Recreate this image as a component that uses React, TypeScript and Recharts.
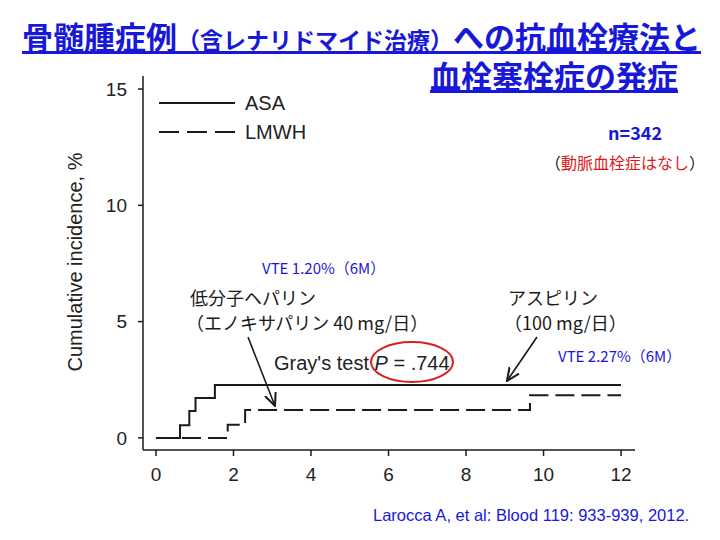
import { LineChart, Line, XAxis, YAxis, Legend } from 'recharts';

// months since start vs cumulative incidence (%)
const asaMonths = [0, 0.62, 0.86, 1.02, 1.52, 12];
const asaIncidence = [0, 0.54, 1.16, 1.72, 2.27, 2.27];
const lmwhMonths = [0, 1.85, 2.3, 9.65, 12];
const lmwhIncidence = [0, 0.57, 1.2, 1.83, 1.83];

const xTicks = [0, 2, 4, 6, 8, 10, 12];
const yTicks = [0, 5, 10, 15];
const seriesNames = ['ASA', 'LMWH'];

const asaData = asaMonths.map((m, i) => ({ month: m, value: asaIncidence[i] }));
const lmwhData = lmwhMonths.map((m, i) => ({ month: m, value: lmwhIncidence[i] }));

const BLUE = '#1818d8';
const INK = '#1a1a1a';
const DASH = '19 7';
const sans = '"Liberation Sans", Arial, sans-serif';
const axisFont = { fontSize: 19, fill: '#222', fontFamily: sans };
const jpFont = '"Noto Sans CJK JP", sans-serif';

const renderLegend = () => (
  <svg width={170} height={60} style={{ display: 'block', overflow: 'visible' }}>
    {seriesNames.map((name, i) => (
      <g key={name}>
        <line
          x1={0}
          x2={76}
          y1={12 + i * 29}
          y2={12 + i * 29}
          stroke={INK}
          strokeWidth={1.8}
          strokeDasharray={i === 1 ? '20 8' : undefined}
        />
        <text x={86} y={12 + i * 29} dominantBaseline='central' style={{ ...axisFont, fontSize: 20 }}>
          {name}
        </text>
      </g>
    ))}
  </svg>
);

const App = () => {
  return (
    <div style={{ position: 'absolute', left: 0, top: 0, width: 720, height: 540, background: '#fff', fontFamily: jpFont }}>
      <div style={{ position: 'absolute', left: 22, top: 19, fontSize: 31, lineHeight: '34px', fontWeight: 'bold', color: BLUE, textDecoration: 'underline', whiteSpace: 'nowrap' }}>
        骨髄腫症例<span style={{ fontSize: 23 }}>（含レナリドマイド治療）</span>への抗血栓療法と
      </div>
      <div style={{ position: 'absolute', right: 42, top: 58, fontSize: 31, lineHeight: '34px', fontWeight: 'bold', color: BLUE, textDecoration: 'underline', whiteSpace: 'nowrap' }}>
        血栓塞栓症の発症
      </div>

      <div style={{ position: 'absolute', left: 0, top: 0 }}>
        <LineChart width={720} height={540} margin={{ top: 76, right: 85, bottom: 60, left: 83 }}>
          <XAxis
            type='number'
            dataKey='month'
            domain={[-0.335, 12.36]}
            ticks={xTicks}
            allowDataOverflow
            height={30}
            tickSize={6}
            tickMargin={12}
            stroke={INK}
            strokeWidth={1.5}
            tick={axisFont}
          />
          <YAxis
            type='number'
            domain={[-0.52, 15.56]}
            ticks={yTicks}
            allowDataOverflow
            width={60}
            tickSize={5}
            tickMargin={11}
            stroke={INK}
            strokeWidth={1.5}
            tick={axisFont}
          />
          <Legend
            layout='vertical'
            align='center'
            verticalAlign='middle'
            content={renderLegend}
            wrapperStyle={{ position: 'absolute', left: 159, top: 91, width: 170 }}
          />
          <Line
            name={seriesNames[0]}
            data={asaData}
            dataKey='value'
            type='stepAfter'
            stroke={INK}
            strokeWidth={2}
            dot={false}
            isAnimationActive={false}
          />
          <Line
            name={seriesNames[1]}
            data={lmwhData}
            dataKey='value'
            type='stepAfter'
            stroke={INK}
            strokeWidth={2}
            strokeDasharray={DASH}
            dot={false}
            isAnimationActive={false}
          />
        </LineChart>
      </div>

      <svg width={720} height={540} style={{ position: 'absolute', left: 0, top: 0, pointerEvents: 'none' }}>
        <defs>
          <marker id='arrow' viewBox='0 0 10 10' refX='9' refY='5' markerWidth='9' markerHeight='9' orient='auto-start-reverse'>
            <path d='M0,1 L9,5 L0,9' fill='none' stroke={INK} strokeWidth={1.4} />
          </marker>
        </defs>
        <text x={75} y={262} transform='rotate(-90 75 262)' textAnchor='middle' dominantBaseline='central' style={{ ...axisFont, fontSize: 20 }}>
          Cumulative incidence, %
        </text>

        <text x={608} y={132} dominantBaseline='central' fontSize={18} fontWeight='bold' fill={BLUE} fontFamily={jpFont}>n=342</text>
        <text x={545} y={162} dominantBaseline='central' fontSize={16} fontFamily={jpFont} fill={INK}>
          （<tspan fill='#e01818'>動脈血栓症はなし</tspan>）
        </text>

        <text x={262} y={267} dominantBaseline='central' fontSize={15} fill={BLUE} fontFamily={jpFont}>VTE 1.20%（6M）</text>
        <text x={558} y={355} dominantBaseline='central' fontSize={15} fill={BLUE} fontFamily={jpFont}>VTE 2.27%（6M）</text>

        <text x={190} y={297} dominantBaseline='central' fontSize={18} fill={INK} fontFamily={jpFont}>低分子ヘパリン</text>
        <text x={186} y={322} dominantBaseline='central' fontSize={18} fill={INK} fontFamily={jpFont}>（エノキサパリン 40 mg/日）</text>
        <text x={508} y={297} dominantBaseline='central' fontSize={18} fill={INK} fontFamily={jpFont}>アスピリン</text>
        <text x={504} y={322} dominantBaseline='central' fontSize={18} fill={INK} fontFamily={jpFont}>（100 mg/日）</text>

        <line x1={248} y1={337} x2={275} y2={406} stroke={INK} strokeWidth={1.6} markerEnd='url(#arrow)' />
        <line x1={537} y1={337} x2={507} y2={381} stroke={INK} strokeWidth={1.6} markerEnd='url(#arrow)' />

        <text x={274} y={363} dominantBaseline='central' style={{ ...axisFont, fontSize: 20 }}>
          Gray's test <tspan fontStyle='italic'>P</tspan> = .744
        </text>
        <ellipse cx={412} cy={362} rx={41} ry={20} fill='none' stroke='#d42020' strokeWidth={2} />
      </svg>

      <div style={{ position: 'absolute', left: 373, top: 504, fontSize: 16.5, lineHeight: '22px', color: BLUE, whiteSpace: 'nowrap', fontFamily: sans }}>
        Larocca A, et al: Blood 119: 933-939, 2012.
      </div>
    </div>
  );
};

export default App;
